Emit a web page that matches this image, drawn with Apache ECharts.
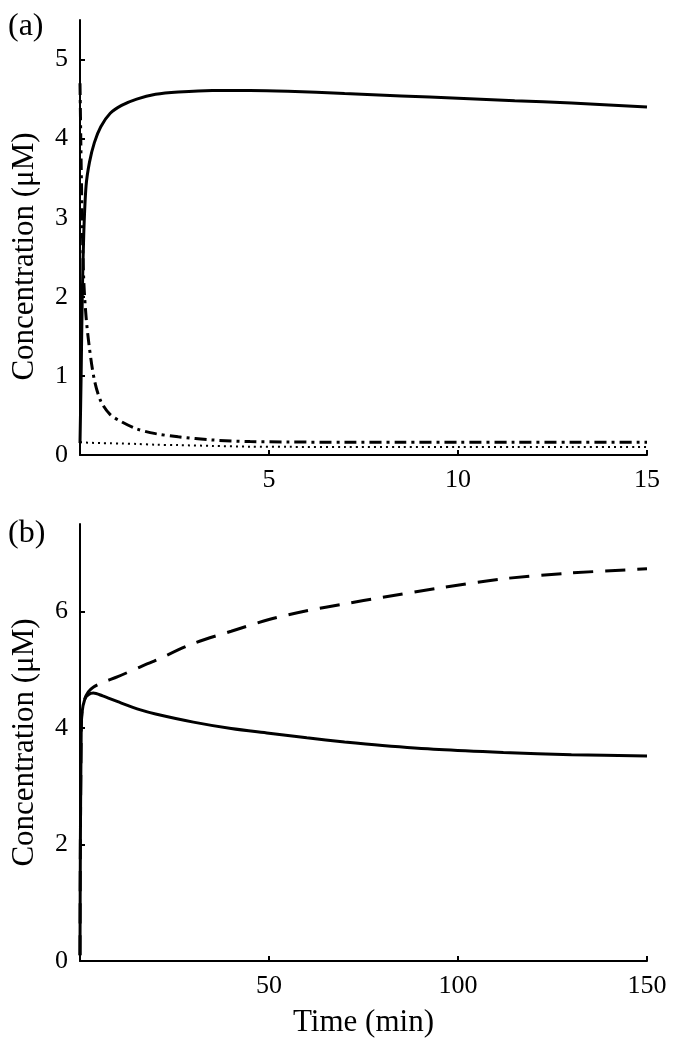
<!DOCTYPE html>
<html>
<head>
<meta charset="utf-8">
<script src="https://cdn.jsdelivr.net/npm/echarts@6/dist/echarts.min.js"></script>
<style>
  html, body { margin: 0; padding: 0; background: #fff; }
  #main { width: 674px; height: 1050px; }
</style>
</head>
<body>
<div id="main"></div>
<script>
// panel (a): 0-15 min
var timeA = [0, 0.03, 0.06, 0.1, 0.16, 0.25, 0.38, 0.55, 0.8, 1.1, 1.5, 2, 2.6, 3.5, 4.5, 5.5, 7, 8.5, 10, 11.5, 13, 15];
var solidA = [0.15, 1.0, 2.0, 2.8, 3.4, 3.7, 3.95, 4.15, 4.32, 4.42, 4.5, 4.56, 4.59, 4.61, 4.61, 4.6, 4.57, 4.54, 4.51, 4.48, 4.45, 4.4];
var dashDotA = [4.7, 3.7, 2.9, 2.2, 1.75, 1.35, 0.95, 0.68, 0.51, 0.42, 0.33, 0.27, 0.23, 0.19, 0.17, 0.165, 0.16, 0.16, 0.16, 0.16, 0.16, 0.16];
var dottedA = [0.16, 0.16, 0.16, 0.158, 0.157, 0.155, 0.153, 0.15, 0.148, 0.145, 0.14, 0.13, 0.125, 0.115, 0.105, 0.103, 0.1, 0.1, 0.1, 0.1, 0.1, 0.1];

// panel (b): 0-150 min
var timeB = [0, 0.1, 0.3, 0.5, 1.3, 2.2, 3.5, 6, 10, 16, 20, 30, 40, 50, 60, 70, 80, 95, 112, 130, 150];
var solidB = [0.1, 2.0, 3.8, 4.25, 4.5, 4.57, 4.6, 4.55, 4.45, 4.31, 4.24, 4.1, 3.99, 3.91, 3.83, 3.76, 3.7, 3.63, 3.58, 3.54, 3.52];
var dashedB = [0.1, 2.0, 3.8, 4.25, 4.5, 4.62, 4.7, 4.78, 4.88, 5.05, 5.16, 5.45, 5.66, 5.86, 6.01, 6.13, 6.24, 6.4, 6.56, 6.66, 6.73];

var ticksAx = [0, 5, 10, 15], labelsAx = [5, 10, 15];
var labelsAy = [0, 1, 2, 3, 4, 5];
var ticksBx = [0, 50, 100, 150], labelsBx = [50, 100, 150];
var labelsBy = [0, 2, 4, 6];

var font = 'Liberation Serif';

function pairs(xs, ys) {
    var out = [];
    for (var i = 0; i < xs.length; i++) out.push([xs[i], ys[i]]);
    return out;
}

// 坐标轴公共样式
function axisBase(extra) {
    var ax = {
        axisLine: { show: true, onZero: false, lineStyle: { color: '#000', width: 2 } },
        axisTick: { show: true, inside: true, length: 5, lineStyle: { color: '#000', width: 2 } },
        axisLabel: { color: '#000', fontFamily: font, fontSize: 26, margin: 12 },
        splitLine: { show: false },
        nameTextStyle: { color: '#000', fontFamily: font, fontSize: 31 }
    };
    for (var k in extra) {
        if (typeof extra[k] === 'object' && ax[k] && !Array.isArray(extra[k])) {
            for (var j in extra[k]) ax[k][j] = extra[k][j];
        } else {
            ax[k] = extra[k];
        }
    }
    return ax;
}

function line(xi, yi, xs, ys, type, width) {
    return {
        type: 'line', xAxisIndex: xi, yAxisIndex: yi,
        data: pairs(xs, ys), showSymbol: false,
        smooth: 0.3,
        lineStyle: { color: '#000', width: width, type: type },
        silent: true
    };
}

var myChart = echarts.init(document.getElementById('main'));
var option = {
    animation: false,
    backgroundColor: '#fff',
    grid: [
        { left: 80, top: 20, width: 567, height: 435 },
        { left: 80, top: 524, width: 567, height: 437 }
    ],
    xAxis: [
        axisBase({ gridIndex: 0, type: 'value', min: 0, max: 15,
            axisTick: { customValues: ticksAx },
            axisLabel: { customValues: labelsAx } }),
        axisBase({ gridIndex: 1, type: 'value', min: 0, max: 150,
            name: 'Time (min)', nameLocation: 'middle', nameGap: 46,
            axisTick: { customValues: ticksBx },
            axisLabel: { customValues: labelsBx } })
    ],
    yAxis: [
        axisBase({ gridIndex: 0, type: 'value', min: 0, max: 5.5,
            name: 'Concentration (\u03bcM)', nameLocation: 'middle', nameGap: 40,
            nameTextStyle: { padding: [0, 38, 0, 0] },
            axisTick: { customValues: labelsAy },
            axisLabel: { customValues: labelsAy } }),
        axisBase({ gridIndex: 1, type: 'value', min: 0, max: 7.5,
            name: 'Concentration (\u03bcM)', nameLocation: 'middle', nameGap: 40,
            axisTick: { customValues: labelsBy },
            axisLabel: { customValues: labelsBy } })
    ],
    graphic: [
        { type: 'text', left: 8, top: 11, style: { text: '(a)', fontFamily: font, fontSize: 32, fill: '#000' } },
        { type: 'text', left: 8, top: 518, style: { text: '(b)', fontFamily: font, fontSize: 32, fill: '#000' } }
    ],
    series: [
        line(0, 0, timeA, dottedA, [2, 4], 2),
        line(0, 0, timeA, dashDotA, [12, 5, 3, 5], 3),
        line(0, 0, timeA, solidA, 'solid', 3),
        line(1, 1, timeB, dashedB, [20, 12], 3),
        line(1, 1, timeB, solidB, 'solid', 3)
    ]
};
myChart.setOption(option);
</script>
</body>
</html>
